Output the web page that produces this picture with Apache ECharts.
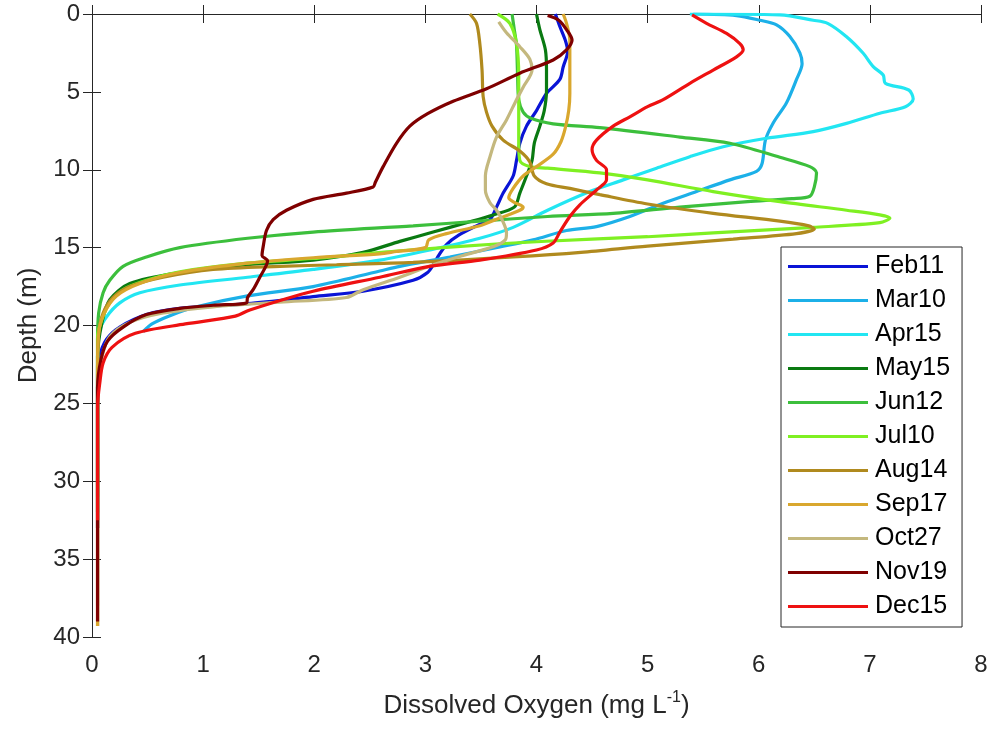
<!DOCTYPE html>
<html>
<head>
<meta charset="utf-8">
<script src="https://cdn.jsdelivr.net/npm/echarts@6/dist/echarts.min.js"></script>
<style>
html,body{margin:0;padding:0;background:#fff;}
#c{width:994px;height:729px;}
</style>
</head>
<body>
<div id="c"></div>
<script>
// Each point: [Dissolved Oxygen (mg/L), Depth (m)]
const feb11 = [[4.17,0],[4.21,0.8],[4.26,1.7],[4.28,2.4],[4.24,3.4],[4.21,4.2],[4.09,5.1],[4.0,6.2],[3.91,7.2],[3.85,8.3],[3.82,9.4],[3.79,10.4],[3.70,11.5],[3.64,12.4],[3.58,13.2],[3.46,13.6],[3.3,14.2],[3.19,14.8],[3.12,15.5],[3.08,16.0],[3.02,16.6],[2.89,17.1],[2.44,17.8],[1.99,18.15],[1.4,18.6],[0.79,18.9],[0.49,19.3],[0.25,20.1],[0.13,20.9],[0.07,22.0],[0.05,24],[0.05,33]];
const mar10 = [[5.41,0],[5.8,0.1],[6.01,0.4],[6.16,0.7],[6.28,1.45],[6.37,2.5],[6.39,3.2],[6.34,4.2],[6.25,5.7],[6.13,7.0],[6.06,8.1],[6.03,9.6],[5.98,10.1],[5.74,10.65],[5.44,11.4],[5.14,12.15],[4.84,13.0],[4.54,13.65],[4.27,13.9],[3.97,14.5],[3.67,14.95],[3.22,15.6],[2.77,16.2],[2.59,16.5],[1.99,17.5],[1.4,18.1],[0.94,18.8],[0.69,19.4],[0.54,19.9],[0.46,20.4]];
const apr15 = [[5.38,0],[6.19,0.06],[6.49,0.4],[6.62,0.6],[6.79,1.46],[6.94,2.52],[7.03,3.38],[7.12,3.92],[7.14,4.45],[7.35,4.88],[7.39,5.46],[7.32,5.95],[7.09,6.37],[6.79,7.02],[6.49,7.55],[6.07,7.98],[5.68,8.52],[5.38,9.16],[5.08,9.9],[4.78,10.65],[4.48,11.4],[4.1,12.6],[3.79,13.7],[3.49,14.4],[3.04,15.15],[2.59,15.8],[1.99,16.4],[1.4,16.9],[0.79,17.4],[0.43,17.9],[0.25,18.55],[0.13,19.45],[0.07,20.3],[0.05,22],[0.05,32]];
const may15 = [[4.0,0],[4.03,1.0],[4.08,2.3],[4.09,3.6],[4.09,4.9],[4.07,6.2],[4.03,7.2],[3.98,8.3],[3.96,9.4],[3.91,10.4],[3.85,11.5],[3.8,12.4],[3.61,12.9],[3.37,13.4],[3.07,14.0],[2.77,14.6],[2.44,15.3],[1.99,15.8],[1.4,16.1],[0.79,16.6],[0.34,17.3],[0.16,18.35],[0.09,19.8],[0.05,22],[0.05,33]];
const jun12 = [[3.78,0],[3.8,1.0],[3.82,2.0],[3.83,4.0],[3.84,5.5],[3.88,6.3],[3.95,6.7],[4.15,7.05],[4.57,7.3],[5.29,7.9],[5.74,8.3],[6.19,9.2],[6.46,9.8],[6.52,10.2],[6.5,11.1],[6.46,11.7],[6.3,11.85],[5.9,12.05],[5.29,12.4],[4.69,12.8],[4.1,13.0],[3.49,13.3],[2.89,13.6],[1.99,14.0],[1.4,14.4],[0.79,15.0],[0.49,15.6],[0.28,16.2],[0.16,17.1],[0.1,17.9],[0.06,19.2],[0.05,21],[0.05,31]];
const jul10 = [[3.65,0],[3.76,0.6],[3.82,1.9],[3.84,4.0],[3.84,6.2],[3.84,8.3],[3.85,9.4],[3.94,9.8],[4.1,9.9],[4.57,10.2],[5.0,10.65],[5.59,11.4],[6.19,12.05],[6.79,12.6],[7.09,12.9],[7.18,13.1],[7.09,13.4],[6.49,13.7],[5.59,14.05],[5.0,14.3],[4.5,14.45],[3.67,14.75],[2.77,15.2],[1.99,15.7],[1.4,16.0],[0.79,16.55],[0.49,17.1],[0.28,17.7],[0.16,18.55],[0.09,19.6],[0.05,20.7],[0.05,32]];
const aug14 = [[3.40,0],[3.46,0.6],[3.49,1.9],[3.51,3.6],[3.52,5.3],[3.55,6.3],[3.6,7.2],[3.7,8.1],[3.85,8.8],[3.94,9.5],[3.98,10.4],[4.09,10.9],[4.3,11.2],[4.57,11.6],[5.0,12.2],[5.59,12.8],[6.19,13.3],[6.45,13.6],[6.5,13.8],[6.34,14.1],[5.77,14.45],[5.0,14.9],[4.4,15.3],[3.79,15.6],[2.89,15.95],[2.2,16.1],[1.69,16.2],[1.09,16.4],[0.64,16.9],[0.34,17.5],[0.19,18.2],[0.1,19.2],[0.06,20.5],[0.05,23],[0.05,39.3]];
const sep17 = [[4.24,0],[4.27,0.6],[4.3,1.7],[4.3,3.0],[4.3,5.1],[4.29,6.2],[4.26,7.3],[4.22,8.2],[4.15,9.0],[4.0,9.8],[3.88,10.4],[3.79,11.2],[3.75,11.8],[3.8,12.1],[3.88,12.4],[3.85,12.6],[3.67,13.1],[3.49,13.6],[3.19,14.1],[3.03,14.5],[3.0,15.0],[2.74,15.25],[2.59,15.4],[1.99,15.65],[1.4,16.0],[0.79,16.6],[0.43,17.3],[0.22,18.1],[0.11,19.2],[0.06,20.5],[0.05,23],[0.05,39.3]];
const oct27 = [[3.66,0.5],[3.73,1.2],[3.85,2.1],[3.94,2.9],[3.96,3.6],[3.88,4.7],[3.82,5.5],[3.73,6.8],[3.64,7.9],[3.58,9.2],[3.54,10.4],[3.54,11.3],[3.58,12.1],[3.64,12.6],[3.69,13.2],[3.73,14.05],[3.72,14.5],[3.61,14.95],[3.34,15.5],[3.07,16.1],[2.77,16.9],[2.44,17.7],[2.29,18.2],[1.69,18.5],[1.09,18.8],[0.64,19.2],[0.34,19.8],[0.16,20.7],[0.09,22.0],[0.05,24],[0.05,38]];
const nov19 = [[4.1,0.1],[4.2,0.4],[4.27,1.0],[4.32,1.67],[4.27,2.3],[4.15,2.95],[3.85,3.8],[3.55,4.8],[3.25,5.6],[3.02,6.4],[2.86,7.2],[2.74,8.3],[2.62,9.8],[2.55,10.8],[2.53,11.1],[2.29,11.5],[1.99,11.9],[1.75,12.6],[1.63,13.2],[1.57,13.9],[1.54,14.95],[1.53,15.5],[1.58,15.85],[1.51,16.9],[1.45,17.7],[1.4,18.2],[1.39,18.55],[1.09,18.7],[0.79,18.9],[0.49,19.3],[0.28,20.1],[0.14,21.0],[0.08,22.2],[0.05,24],[0.05,39.0]];
const dec15 = [[5.4,0.06],[5.53,0.6],[5.71,1.25],[5.83,1.9],[5.86,2.3],[5.8,2.75],[5.59,3.6],[5.38,4.45],[5.14,5.5],[5.0,5.95],[4.84,6.6],[4.69,7.2],[4.54,8.1],[4.5,8.7],[4.54,9.4],[4.63,10.0],[4.63,10.65],[4.54,11.3],[4.39,12.25],[4.3,13.0],[4.21,14.0],[4.15,14.7],[4.0,15.15],[3.49,15.8],[3.04,16.2],[2.59,16.9],[1.99,17.8],[1.42,19.0],[1.29,19.4],[0.84,19.9],[0.39,20.5],[0.18,21.4],[0.1,22.4],[0.07,23.7],[0.05,25.2],[0.05,32.5]];

const seriesNames = ['Feb11','Mar10','Apr15','May15','Jun12','Jul10','Aug14','Sep17','Oct27','Nov19','Dec15'];
const seriesData = [feb11, mar10, apr15, may15, jun12, jul10, aug14, sep17, oct27, nov19, dec15];
const seriesColors = ['#0a14d6','#1cb0e8','#22e6f2','#0a7a12','#3cbf3c','#7ff022','#b08a1e','#d9a72e','#c4b87e','#7f0000','#ee1111'];
const xTicks = [0,1,2,3,4,5,6,7,8];
const yTicks = [0,5,10,15,20,25,30,35,40];

const FONT = 'Liberation Sans, Arial, Helvetica, sans-serif';
const AX = '#262626';

const chart = echarts.init(document.getElementById('c'), null, {renderer:'canvas'});
const option = {
  animation: false,
  backgroundColor: '#fff',
  grid: {left: 92, top: 14, right: 13, bottom: 92, containLabel: false},
  legend: {
    orient: 'vertical',
    left: 781, top: 247,
    backgroundColor: '#fff',
    borderColor: AX, borderWidth: 1, borderRadius: 0,
    padding: [7, 12, 8, 7],
    itemWidth: 80, itemHeight: 3, itemGap: 9,
    icon: 'rect',
    textStyle: {fontFamily: FONT, fontSize: 25, color: '#000', lineHeight: 25, padding: [0,0,0,2]},
    data: seriesNames
  },
  xAxis: [{
    type: 'value', min: xTicks[0], max: xTicks[xTicks.length-1], interval: 1,
    position: 'bottom',
    axisLine: {show: true, lineStyle: {color: AX, width: 1}},
    axisTick: {show: true, inside: true, length: 9, lineStyle: {color: AX}},
    axisLabel: {fontFamily: FONT, fontSize: 24, color: AX, margin: 16},
    splitLine: {show: false},
    name: '{a|Dissolved Oxygen (mg L}{s|-1}{a|)}',
    nameLocation: 'middle', nameGap: 53,
    nameTextStyle: {
      rich: {
        a: {fontFamily: FONT, fontSize: 26, color: AX, lineHeight: 32},
        s: {fontFamily: FONT, fontSize: 16, color: AX, lineHeight: 16, verticalAlign: 'top'}
      }
    }
  },{
    type: 'value', min: 0, max: 8, interval: 1, position: 'top',
    axisLine: {show: true, lineStyle: {color: AX, width: 1}},
    axisTick: {show: true, inside: true, length: 9, lineStyle: {color: AX}},
    axisLabel: {show: false}, splitLine: {show: false}
  }],
  yAxis: [{
    type: 'value', min: yTicks[0], max: yTicks[yTicks.length-1], interval: 5, inverse: true,
    position: 'left',
    axisLine: {show: true, lineStyle: {color: AX, width: 1}},
    axisTick: {show: true, inside: true, length: 9, lineStyle: {color: AX}},
    axisLabel: {fontFamily: FONT, fontSize: 24, color: AX, margin: 12},
    splitLine: {show: false},
    name: 'Depth (m)', nameLocation: 'middle', nameGap: 50,
    nameTextStyle: {fontFamily: FONT, fontSize: 26, color: AX}
  },{
    type: 'value', min: 0, max: 40, interval: 5, inverse: true, position: 'right',
    axisLine: {show: true, lineStyle: {color: AX, width: 1}},
    axisTick: {show: true, inside: true, length: 9, lineStyle: {color: AX}},
    axisLabel: {show: false}, splitLine: {show: false}
  }],
  series: seriesNames.map((n, i) => ({
    name: n, type: 'line', xAxisIndex: 0, yAxisIndex: 0,
    data: seriesData[i],
    showSymbol: false, symbol: 'none',
    smooth: 0.3,
    lineStyle: {width: 3.2, color: seriesColors[i]},
    itemStyle: {color: seriesColors[i]},
    emphasis: {disabled: true}
  }))
};
chart.setOption(option);
</script>
</body>
</html>
